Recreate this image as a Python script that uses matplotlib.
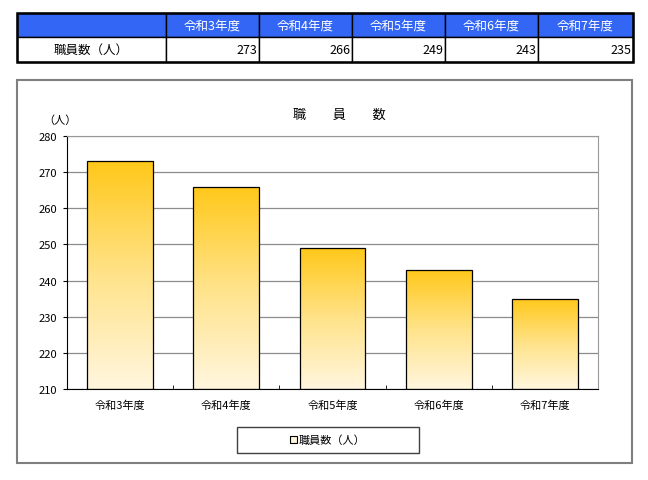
import matplotlib
matplotlib.use("Agg")
import matplotlib.pyplot as plt
import numpy as np
from matplotlib.patches import Rectangle
from matplotlib.colors import LinearSegmentedColormap

plt.rcParams['font.family'] = ['Noto Sans CJK JP', 'DejaVu Sans']

categories = ["令和3年度", "令和4年度", "令和5年度", "令和6年度", "令和7年度"]
values = [273, 266, 249, 243, 235]
series_name = "職員数（人）"
title = "職　　員　　数"
unit_label = "（人）"
yticks = [210, 220, 230, 240, 250, 260, 270, 280]

W, H = 648, 481
fig = plt.figure(figsize=(W / 100, H / 100), dpi=100)

# overlay axes in pixel coordinates for table and frame
ov = fig.add_axes([0, 0, 1, 1])
ov.set_xlim(0, W)
ov.set_ylim(H, 0)
ov.axis('off')

# ---- table ----
col_edges = [17, 166, 259, 352, 445, 538, 633]
row_edges = [14, 38, 63]
blue = "#3366F5"
for i in range(len(col_edges) - 1):
    x0, x1 = col_edges[i], col_edges[i + 1]
    ov.add_patch(Rectangle((x0, row_edges[0]), x1 - x0, row_edges[1] - row_edges[0],
                           facecolor=blue, edgecolor="black", lw=1.0))
    ov.add_patch(Rectangle((x0, row_edges[1]), x1 - x0, row_edges[2] - row_edges[1],
                           facecolor="white", edgecolor="black", lw=1.0))
ov.add_patch(Rectangle((col_edges[0], row_edges[0]), col_edges[-1] - col_edges[0],
                       row_edges[2] - row_edges[0], fill=False, edgecolor="black", lw=1.8))
ymid_h = (row_edges[0] + row_edges[1]) / 2
ymid_d = (row_edges[1] + row_edges[2]) / 2
for i, c in enumerate(categories):
    x0, x1 = col_edges[i + 1], col_edges[i + 2]
    ov.text((x0 + x1) / 2, ymid_h, c, ha='center', va='center', color='white', fontsize=9)
    ov.text(x1 - 2, ymid_d, f"{values[i]}", ha='right', va='center', color='black', fontsize=9)
ov.text((col_edges[0] + col_edges[1]) / 2, ymid_d, series_name, ha='center', va='center',
        fontsize=9)

# ---- chart frame ----
ov.add_patch(Rectangle((17, 81), 615, 383, fill=False, edgecolor="#7F7F7F", lw=1.5))
ov.text(339, 115, title, ha='center', va='center', fontsize=9.5)
ov.text(60, 121, unit_label, ha='center', va='center', fontsize=8)

# ---- bar chart ----
pl, pr, pt, pb = 67, 598, 137, 390
ax = fig.add_axes([pl / W, (H - pb) / H, (pr - pl) / W, (pb - pt) / H])
ymin, ymax = 210, 280
x = np.arange(len(categories))
bw = 0.62
cmap = LinearSegmentedColormap.from_list("g", ["#FFF6DE", "#FFE38A", "#FFC81A"])
grad = np.linspace(0, 1, 256).reshape(-1, 1)
bars = ax.bar(x, [v - ymin for v in values], bw, bottom=ymin, facecolor='none',
              edgecolor='black', lw=0.9, zorder=3)
for b in bars:
    bx, by = b.get_x(), b.get_y()
    im = ax.imshow(grad, cmap=cmap, aspect='auto', origin='lower',
                   extent=[bx, bx + b.get_width(), by, by + b.get_height()], zorder=2)
    im.set_clip_path(b)
ax.set_xlim(-0.5, len(categories) - 0.5)
ax.set_ylim(ymin, ymax)
ax.set_yticks(yticks)
ax.set_yticklabels([str(t) for t in yticks], fontsize=8)
ax.set_xticks(x)
ax.set_xticklabels(categories, fontsize=8)
ax.tick_params(axis='x', length=0, pad=8)
ax.set_xticks(np.arange(0.5, len(categories) - 0.5, 1), minor=True)
ax.tick_params(axis='x', which='minor', length=3, direction='in')
ax.tick_params(axis='y', length=3, direction='out', pad=4)
ax.yaxis.grid(True, color='#8C8C8C', lw=0.9, zorder=1)
ax.set_axisbelow(True)
for s in ['top', 'right']:
    ax.spines[s].set_color('#999999')
for s in ['left', 'bottom']:
    ax.spines[s].set_color('black')

# ---- legend ----
ov.add_patch(Rectangle((237, 428), 182, 26, fill=False, edgecolor="#404040", lw=1.0))
handle = Rectangle((0, 0), 1, 1, facecolor="#FFF6DE", edgecolor="black", lw=0.8)
fig.legend([handle], [series_name], loc='center', bbox_to_anchor=(328 / W, (H - 441) / H),
           frameon=False, fontsize=8, handlelength=0.6, handleheight=0.6, handletextpad=0.2)

fig.savefig("out.png", dpi=100)
